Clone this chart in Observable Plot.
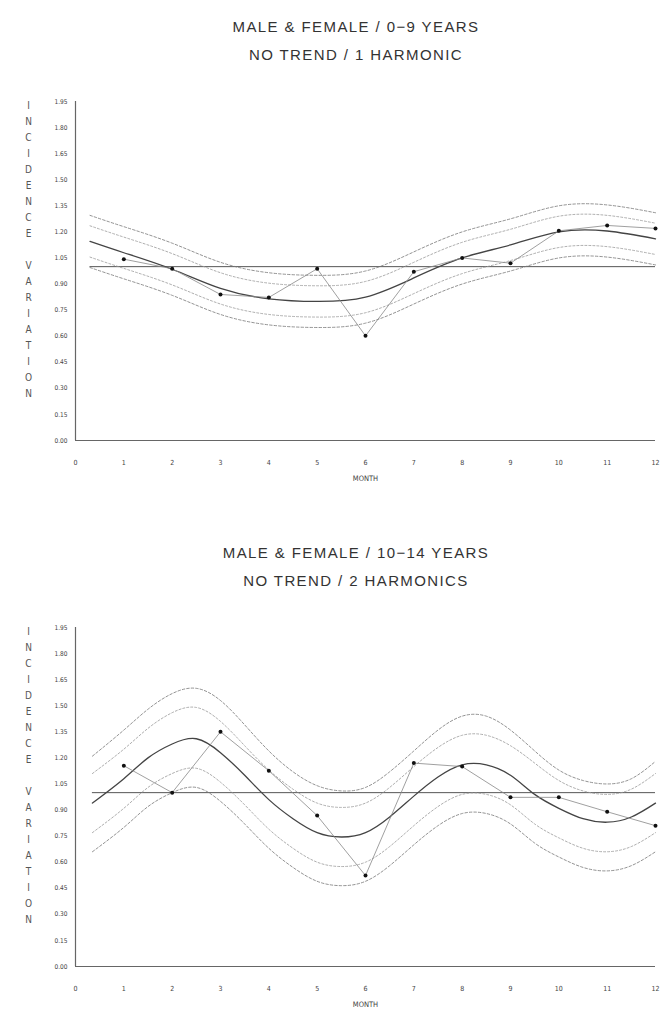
<!DOCTYPE html>
<html><head><meta charset="utf-8">
<script src="https://cdn.jsdelivr.net/npm/d3@7"></script>
<script src="https://cdn.jsdelivr.net/npm/@observablehq/plot@0.6"></script>
<style>
body{margin:0;background:#fff;font-family:"Liberation Sans",Arial,sans-serif;}
#wrap{position:relative;width:664px;height:1015px;overflow:hidden;background:#fff}
.title{position:absolute;left:24px;width:664px;text-align:center;font-size:15px;letter-spacing:1.4px;color:#333;line-height:28px;white-space:nowrap}
.chart{position:absolute;left:0}
</style></head><body><div id="wrap">
<div class="title" id="t1" style="top:13px"></div>
<div class="chart" id="c1" style="top:80px"></div>
<div class="title" id="t2" style="top:539px"></div>
<div class="chart" id="c2" style="top:606px"></div>
</div>
<script>
// ---- data ----
const titles1 = ["MALE & FEMALE / 0\u22129 YEARS", "NO TREND / 1 HARMONIC"];
const titles2 = ["MALE & FEMALE / 10\u221214 YEARS", "NO TREND / 2 HARMONICS"];
const yAxisLetters = "I\nN\nC\nI\nD\nE\nN\nC\nE\n\nV\nA\nR\nI\nA\nT\nI\nO\nN";
const xLabel = "MONTH";
const monthTicks = [0,1,2,3,4,5,6,7,8,9,10,11,12];
const yTicks = [0,0.15,0.30,0.45,0.60,0.75,0.90,1.05,1.20,1.35,1.50,1.65,1.80,1.95];
const refLevel = 1.0;

// chart 1 : 0-9 years, 1 harmonic
const obsMonths = [1,2,3,4,5,6,7,8,9,10,11,12];
const obs1 = [1.043,0.988,0.84,0.823,0.988,0.602,0.971,1.05,1.02,1.206,1.237,1.22];
const fitMonths1 = [0.3,1,2,3,4,5,6,7,8,9,10,11,12];
const fit1    = [1.145,1.08,0.985,0.875,0.815,0.80,0.825,0.935,1.05,1.125,1.20,1.205,1.16];
const upIn1   = [1.235,1.17,1.075,0.965,0.905,0.89,0.915,1.025,1.14,1.215,1.29,1.295,1.25];
const loIn1   = [1.055,0.99,0.895,0.785,0.725,0.71,0.735,0.845,0.96,1.035,1.11,1.115,1.07];
const upOut1  = [1.295,1.23,1.135,1.025,0.965,0.95,0.975,1.085,1.20,1.275,1.35,1.355,1.31];
const loOut1  = [0.995,0.93,0.835,0.725,0.665,0.65,0.675,0.785,0.90,0.975,1.05,1.055,1.01];

// chart 2 : 10-14 years, 2 harmonics
const obs2 = [1.155,1.00,1.35,1.126,0.868,0.523,1.17,1.15,0.973,0.973,0.89,0.81];
const fitMonths2 = [0.35,1,1.5,2,2.5,3,3.5,4,4.5,5,5.5,6,6.5,7,7.5,8,8.5,9,9.5,10,10.5,11,11.5,12];
const fit2   = [0.94,1.08,1.20,1.28,1.31,1.23,1.10,0.96,0.85,0.77,0.745,0.77,0.86,0.98,1.09,1.16,1.16,1.10,0.99,0.91,0.85,0.83,0.86,0.94];
const upOut2 = [1.21,1.36,1.48,1.57,1.60,1.53,1.39,1.24,1.12,1.04,1.01,1.03,1.12,1.24,1.36,1.44,1.44,1.36,1.24,1.13,1.07,1.05,1.08,1.18];
const upIn2  = [1.11,1.25,1.37,1.46,1.49,1.41,1.27,1.13,1.02,0.94,0.915,0.94,1.03,1.15,1.26,1.33,1.33,1.27,1.17,1.07,1.01,0.99,1.02,1.11];
const loIn2  = [0.77,0.91,1.03,1.11,1.14,1.06,0.93,0.79,0.68,0.60,0.575,0.60,0.69,0.81,0.92,0.99,0.99,0.93,0.82,0.74,0.68,0.66,0.69,0.77];
const loOut2 = [0.66,0.80,0.92,1.00,1.03,0.95,0.82,0.68,0.57,0.49,0.465,0.49,0.58,0.70,0.81,0.88,0.88,0.82,0.71,0.63,0.57,0.55,0.58,0.66];

// ---- drawing ----
const zip = (xs, ys) => xs.map((x, i) => ({x, y: ys[i]}));

function chart({fitMonths, fit, upIn, loIn, upOut, loOut, obs, height, marginBottom}) {
  const dash = {x: "x", y: "y", curve: "natural", stroke: "#777", strokeWidth: 0.8, strokeDasharray: "2.5,2"};
  const ref = [{x1: fitMonths[0], x2: monthTicks[monthTicks.length - 1], y: refLevel}];
  return Plot.plot({
    width: 664, height,
    marginLeft: 75, marginRight: 9, marginTop: 21, marginBottom,
    style: {fontFamily: "'DejaVu Sans Condensed','Liberation Sans',sans-serif", color: "#444", background: "#fff"},
    x: {domain: [0, 12]},
    y: {domain: [0, 1.95]},
    marks: [
      Plot.axisY({ticks: yTicks, tickSize: 0, tickPadding: 8, tickFormat: d3.format(".2f"), fontSize: 6.5, label: null}),
      Plot.axisX({ticks: monthTicks, tickSize: 0, tickPadding: 20, tickFormat: d => String(d), fontSize: 7, label: null}),
      Plot.text([xLabel], {frameAnchor: "bottom", dy: 40, fontSize: 7.5, fill: "#444"}),
      Plot.text([yAxisLetters], {frameAnchor: "top-left", dx: -47, dy: -4, lineAnchor: "top", lineHeight: 1.6, fontSize: 10, fill: "#555", textAnchor: "middle"}),
      Plot.ruleX([0], {stroke: "#666", strokeWidth: 1.2}),
      Plot.ruleY([0], {stroke: "#666", strokeWidth: 1.2}),
      Plot.ruleY(ref, {x1: "x1", x2: "x2", y: "y", stroke: "#555", strokeWidth: 1}),
      Plot.line(zip(fitMonths, upOut), dash),
      Plot.line(zip(fitMonths, upIn), {...dash, stroke: "#999", strokeDasharray: "2,2"}),
      Plot.line(zip(fitMonths, loIn), {...dash, stroke: "#999", strokeDasharray: "2,2"}),
      Plot.line(zip(fitMonths, loOut), dash),
      Plot.line(zip(fitMonths, fit), {x: "x", y: "y", curve: "natural", stroke: "#444", strokeWidth: 1.3}),
      Plot.line(zip(obsMonths, obs), {x: "x", y: "y", stroke: "#888", strokeWidth: 0.8}),
      Plot.dot(zip(obsMonths, obs), {x: "x", y: "y", r: 2, fill: "#111", stroke: "none"})
    ]
  });
}

function title(el, lines) {
  el.innerHTML = lines.map(t => `<div>${t.replace(/&/g, "&amp;")}</div>`).join("");
}
title(document.getElementById("t1"), titles1);
title(document.getElementById("t2"), titles2);

document.getElementById("c1").appendChild(chart({fitMonths: fitMonths1, fit: fit1, upIn: upIn1, loIn: loIn1, upOut: upOut1, loOut: loOut1, obs: obs1, height: 410, marginBottom: 50}));
document.getElementById("c2").appendChild(chart({fitMonths: fitMonths2, fit: fit2, upIn: upIn2, loIn: loIn2, upOut: upOut2, loOut: loOut2, obs: obs2, height: 409, marginBottom: 49}));
</script>
</body></html>
